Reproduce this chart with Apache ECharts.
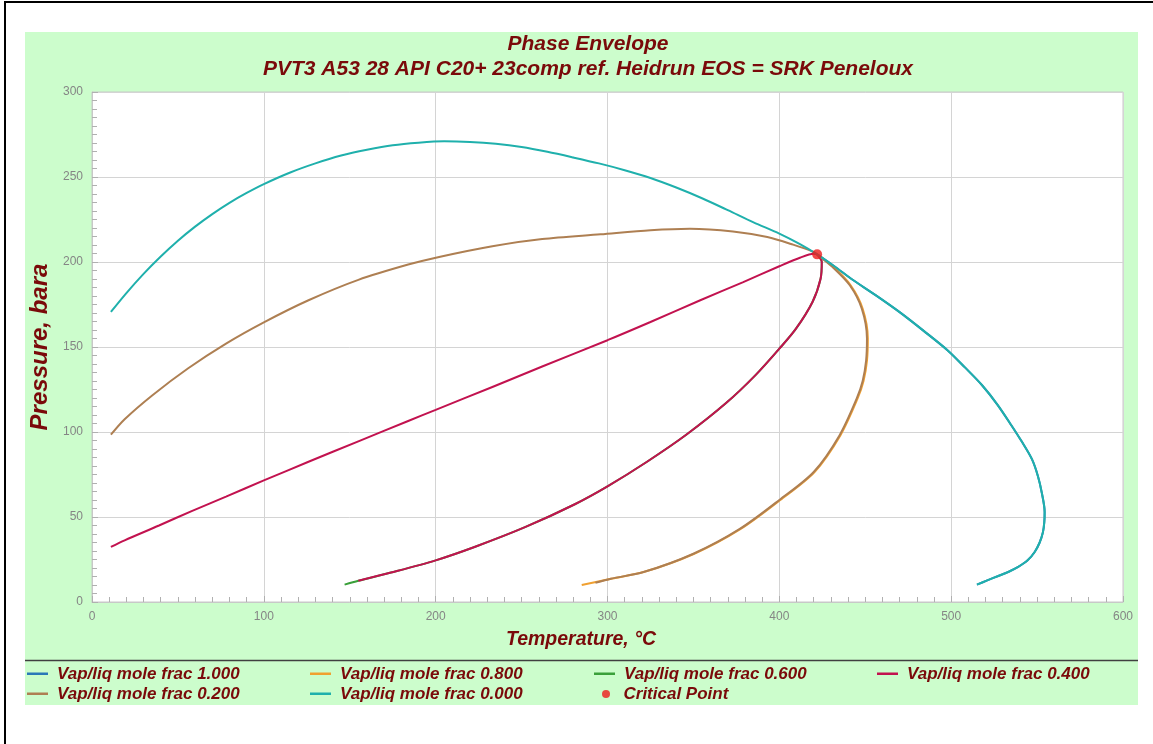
<!DOCTYPE html>
<html>
<head>
<meta charset="utf-8">
<script src="https://cdn.jsdelivr.net/npm/echarts@6/dist/echarts.min.js"></script>
<style>
html,body{margin:0;padding:0;background:#fff;}
#c{width:1153px;height:744px;}
</style>
</head>
<body>
<div id="c"></div>
<script>
// ---- Data (Temperature °C, Pressure bara) ----
const xTicks = [0, 100, 200, 300, 400, 500, 600];
const yTicks = [0, 50, 100, 150, 200, 250, 300];

// Vap/liq mole frac 0.000 (full envelope)
const q000T = [11, 20, 30, 40, 50, 60, 70, 80, 90, 100, 115, 130, 145, 160, 175, 190, 205, 220, 235, 250, 265, 280, 295, 310, 325, 340, 355, 370, 385, 400, 412, 422, 432, 442, 456, 470, 484, 498, 508, 518, 527, 535, 541, 547, 550.5, 552.8, 554.4, 554.2, 553.4, 551.5, 548.6, 544.5, 539, 533.5, 527.4, 521, 515];
const q000P = [170.6, 181.7, 193, 203.2, 212.5, 220.8, 228.2, 234.8, 240.6, 245.8, 252.5, 258, 262.6, 266, 268.7, 270.2, 271, 270.6, 269.5, 267.6, 264.8, 261.5, 258, 254, 249.4, 243.8, 237.5, 230.5, 223.3, 216.7, 210.5, 204.5, 197.5, 190, 180.5, 170.5, 159.5, 148, 138, 127.5, 116, 104, 94.5, 84, 74, 64, 53, 47, 41, 35, 29.4, 24.5, 20.6, 17.8, 15.3, 12.7, 10.2];

// Vap/liq mole frac 1.000 (dew branch, lies under 0.000)
const q100T = [422, 432, 442, 456, 470, 484, 498, 508, 518, 527, 535, 541, 547, 550.5, 552.8, 554.4, 554.2, 553.4, 551.5, 548.6, 544.5, 539, 533.5, 527.4, 521, 515];
const q100P = [204.5, 197.5, 190, 180.5, 170.5, 159.5, 148, 138, 127.5, 116, 104, 94.5, 84, 74, 64, 53, 47, 41, 35, 29.4, 24.5, 20.6, 17.8, 15.3, 12.7, 10.2];

// Vap/liq mole frac 0.800
const q080T = [422, 431.5, 441.5, 448.5, 451.5, 451, 449, 445.5, 435.5, 420.5, 400.5, 377.5, 350.5, 321, 302, 285];
const q080P = [204.5, 197, 186.3, 172.5, 155, 142, 130, 119.6, 98, 76.5, 60, 43, 28.4, 17.6, 13.7, 10];

// Vap/liq mole frac 0.600
const q060T = [147, 155, 174, 200, 223, 252, 281, 300, 323, 346, 369, 386, 400, 409.7, 419.3, 424, 424.7, 422];
const q060P = [10.2, 12.5, 17.3, 24.5, 32.5, 44, 57.5, 68, 82.5, 98.5, 117, 133.3, 149, 160.8, 176.5, 190.2, 200, 204.5];

// Vap/liq mole frac 0.400 (upper and lower branches)
const q040UpT = [11, 19, 39, 58, 78, 100, 126, 155, 184, 200, 233, 262, 300, 325, 354, 379, 400, 412, 420, 422];
const q040UpP = [32.4, 36.3, 45, 53.5, 62, 71.5, 82.5, 94.5, 106.5, 113, 126.5, 138.5, 154, 164.7, 177.5, 188.2, 197.5, 202.5, 204.8, 204.5];
const q040LoT = [422, 424.7, 424, 419.3, 409.7, 400, 386, 369, 346, 323, 300, 281, 252, 223, 200, 174, 155];
const q040LoP = [204.5, 200, 190.2, 176.5, 160.8, 149, 133.3, 117, 98.5, 82.5, 68, 57.5, 44, 32.5, 24.5, 17.3, 12.5];

// Vap/liq mole frac 0.200 (upper and lower branches)
const q020UpT = [11, 19, 35, 56, 78, 100, 126, 155, 184, 202, 233, 262, 296, 325, 348, 373, 393, 408, 420, 422];
const q020UpP = [98.4, 107.5, 121.5, 137.5, 152, 164.5, 177.5, 189.5, 198.5, 203, 209.3, 213.5, 216.3, 218.7, 219.6, 218, 214.7, 210.2, 205.9, 204.5];
const q020LoT = [422, 431, 441, 448, 451, 450.5, 448.5, 445, 435, 420, 400, 377, 350, 321, 302, 293];
const q020LoP = [204.5, 197, 186.3, 172.5, 155, 142, 130, 119.6, 98, 76.5, 60, 43, 28.4, 17.6, 13.7, 11.3];

// Critical point
const critT = [422];
const critP = [204.5];

const names = {
  q100: 'Vap/liq mole frac 1.000',
  q080: 'Vap/liq mole frac 0.800',
  q060: 'Vap/liq mole frac 0.600',
  q040: 'Vap/liq mole frac 0.400',
  q020: 'Vap/liq mole frac 0.200',
  q000: 'Vap/liq mole frac 0.000',
  crit: 'Critical Point'
};
const colors = {
  q100: '#2a78b8',
  q080: '#f0a030',
  q060: '#3aa03a',
  q040: '#c2124f',
  q020: '#ae7f52',
  q000: '#1fb0ac',
  crit: '#ee1c1c'
};

function zip(t, p) { return t.map((v, i) => [v, p[i]]); }

const titleColor = '#7a0a0a';
const fontFam = '"Liberation Sans", Arial, sans-serif';

function lineSeries(key, t, p) {
  return {
    name: names[key], type: 'line', data: zip(t, p),
    showSymbol: false, symbol: 'none', smooth: 0.3,
    lineStyle: { color: colors[key], width: 2 },
    itemStyle: { color: colors[key] },
    emphasis: { disabled: true }, animation: false
  };
}

const lineIcon = 'path://M0,0M0,5.5L21,5.5L21,8L0,8ZM25,14';
const legendBase = {
  orient: 'vertical', top: 660, itemGap: 2, itemWidth: 25, itemHeight: 14,
  selectedMode: false, icon: lineIcon,
  textStyle: { color: titleColor, fontSize: 17, fontWeight: 'bold', fontStyle: 'italic', fontFamily: fontFam, lineHeight: 18 }
};

const chart = echarts.init(document.getElementById('c'), null, { renderer: 'canvas' });
chart.setOption({
  animation: false,
  backgroundColor: '#ffffff',
  graphic: [
    { type: 'rect', z: -10, silent: true, shape: { x: 25, y: 32, width: 1113, height: 673 }, style: { fill: '#ccfdcc' } },
    { type: 'line', z: -5, silent: true, shape: { x1: 25, y1: 660.5, x2: 1138, y2: 660.5 }, style: { stroke: '#404040', lineWidth: 1.5 } },
    { type: 'rect', z: 100, silent: true, shape: { x: 5, y: 2, width: 1170, height: 800 }, style: { fill: 'none', stroke: '#000', lineWidth: 2 } },
    { type: 'text', z: 100, silent: true, x: 588, y: 44, style: { text: 'Phase Envelope', fill: titleColor, font: 'italic bold 21px ' + fontFam, align: 'center', verticalAlign: 'middle' } },
    { type: 'text', z: 100, silent: true, x: 588, y: 69, style: { text: 'PVT3 A53 28 API C20+ 23comp ref. Heidrun EOS = SRK Peneloux', fill: titleColor, font: 'italic bold 21px ' + fontFam, align: 'center', verticalAlign: 'middle' } },
    { type: 'text', z: 100, silent: true, x: 581, y: 640, style: { text: 'Temperature, °C', fill: titleColor, font: 'italic bold 19.5px ' + fontFam, align: 'center', verticalAlign: 'middle' } }
  ],
  grid: { left: 92, top: 92, width: 1031, height: 510, show: true, backgroundColor: '#ffffff', borderColor: '#c8c8c8', borderWidth: 1 },
  xAxis: {
    type: 'value', min: xTicks[0], max: xTicks[xTicks.length - 1], interval: 100,
    axisLine: { show: true, lineStyle: { color: '#c8c8c8' } },
    axisTick: { show: true, inside: true, length: 6, lineStyle: { color: '#b0b0b0' } },
    minorTick: { show: true, splitNumber: 10, length: 5, lineStyle: { color: '#b0b0b0' } },
    axisLabel: { color: '#858585', fontSize: 12, margin: 9, fontFamily: fontFam },
    splitLine: { show: true, lineStyle: { color: '#d4d4d4', width: 1 } }
  },
  yAxis: {
    type: 'value', min: yTicks[0], max: yTicks[yTicks.length - 1], interval: 50,
    name: 'Pressure, bara', nameLocation: 'middle', nameGap: 40,
    nameTextStyle: { color: titleColor, fontSize: 24, fontWeight: 'bold', fontStyle: 'italic', fontFamily: fontFam },
    axisLine: { show: true, lineStyle: { color: '#c8c8c8' } },
    axisTick: { show: true, inside: true, length: 6, lineStyle: { color: '#b0b0b0' } },
    minorTick: { show: true, splitNumber: 10, length: 5, lineStyle: { color: '#b0b0b0' } },
    axisLabel: { color: '#858585', fontSize: 12, margin: 9, fontFamily: fontFam },
    splitLine: { show: true, lineStyle: { color: '#d4d4d4', width: 1 } }
  },
  legend: [
    Object.assign({}, legendBase, { left: 22, data: [names.q100, names.q020] }),
    Object.assign({}, legendBase, { left: 305, data: [names.q080, names.q000] }),
    Object.assign({}, legendBase, { left: 589, data: [names.q060] }),
    Object.assign({}, legendBase, { left: 597, top: 680, itemHeight: 8, icon: 'circle', data: [names.crit] }),
    Object.assign({}, legendBase, { left: 872, data: [names.q040] })
  ],
  series: [
    lineSeries('q100', q100T, q100P),
    lineSeries('q080', q080T, q080P),
    lineSeries('q060', q060T, q060P),
    lineSeries('q040', q040UpT, q040UpP),
    lineSeries('q040', q040LoT, q040LoP),
    lineSeries('q020', q020UpT, q020UpP),
    lineSeries('q020', q020LoT, q020LoP),
    lineSeries('q000', q000T, q000P),
    {
      name: names.crit, type: 'scatter', data: zip(critT, critP),
      symbol: 'circle', symbolSize: 10, itemStyle: { color: colors.crit },
      emphasis: { disabled: true }, z: 5
    }
  ]
});
</script>
</body>
</html>
